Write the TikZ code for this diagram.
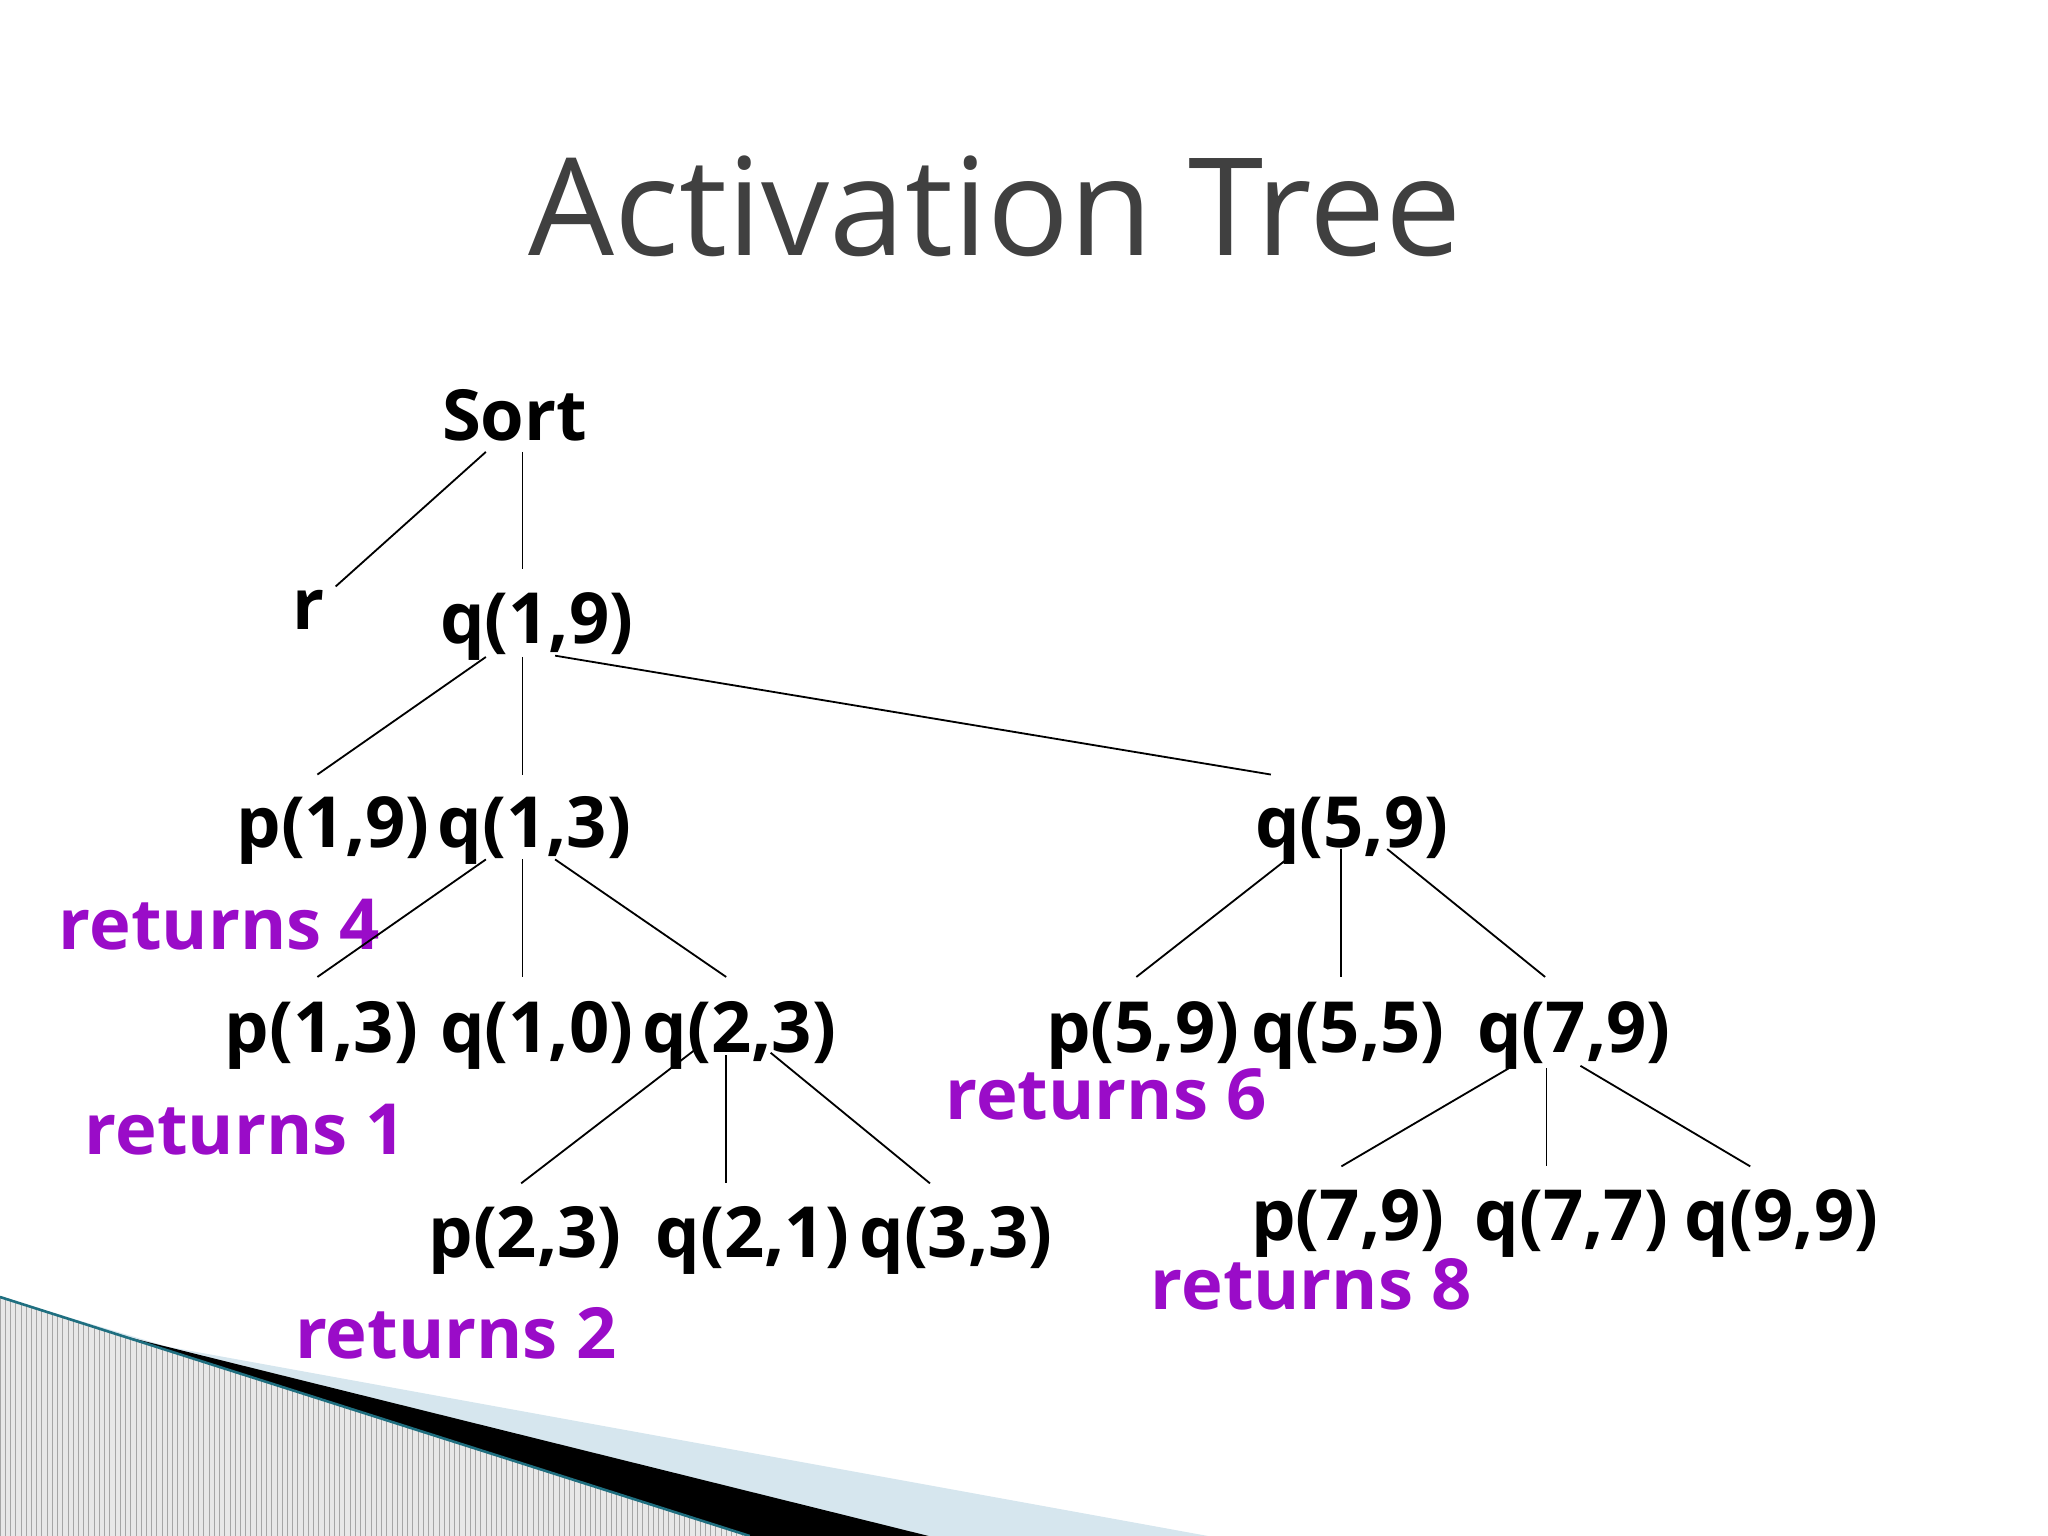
\documentclass[tikz,border=0pt]{standalone}
\usepackage{fontspec}
\setmainfont{Open Sans}
\definecolor{ret}{HTML}{9A0CC8}
\definecolor{ttl}{HTML}{404040}
\definecolor{teal1}{HTML}{1F6F80}
\definecolor{lblue}{HTML}{D6E6EE}
\begin{document}
\begin{tikzpicture}[x=0.5pt,y=-0.5pt,
  lbl/.style={font=\fontsize{27}{30}\selectfont\bfseries,inner sep=0pt},
  rl/.style={lbl,text=ret},
  edge/.style={black,line width=0.7pt}]
\useasboundingbox (0,0) rectangle (1568,1176);
% decoration
\fill[lblue] (0,993) -- (128,1031) -- (925,1176) -- (0,1176) -- cycle;
\fill[black] (0,993) -- (83,1020) -- (711,1176) -- (0,1176) -- cycle;
\begin{scope}
\clip (0,993) -- (574,1176) -- (0,1176) -- cycle;
\fill[gray!18] (0,990) rectangle (580,1176);
\foreach \i in {0,4,...,580} \draw[gray!70,line width=0.25pt] (\i,990) -- (\i,1176);
\end{scope}
\draw[teal1,line width=1pt] (0,993) -- (574,1176);
% title
\node[font=\fontsize{52}{60}\selectfont,text=ttl] (title) at (762,158) {Activation Tree};
% nodes
\node[lbl] (sort) at (394,318) {Sort};
\node[lbl] (r) at (236,467) {r};
\node[lbl] (q19) at (411,480) {q(1,9)};
\node[lbl] (p19) at (255,636) {p(1,9)};
\node[lbl] (q13) at (409,636) {q(1,3)};
\node[lbl] (q59) at (1035,636) {q(5,9)};
\node[lbl] (p13) at (246,793) {p(1,3)};
\node[lbl] (q10) at (411,793) {q(1,0)};
\node[lbl] (q23) at (566,793) {q(2,3)};
\node[lbl] (p59) at (875,793) {p(5,9)};
\node[lbl] (q55) at (1032,793) {q(5,5)};
\node[lbl] (q79) at (1205,793) {q(7,9)};
\node[lbl] (p23) at (402,950) {p(2,3)};
\node[lbl] (q21) at (576,950) {q(2,1)};
\node[lbl] (q33) at (732,950) {q(3,3)};
\node[lbl] (p79) at (1032,937) {p(7,9)};
\node[lbl] (q77) at (1203,937) {q(7,7)};
\node[lbl] (q99) at (1364,937) {q(9,9)};
\node[rl] (r4) at (168,708) {returns 4};
\node[rl] (r1) at (188,865) {returns 1};
\node[rl] (r6) at (847,838) {returns 6};
\node[rl] (r2) at (349,1021) {returns 2};
\node[rl] (r8) at (1004,983) {returns 8};
% edges
\draw[edge] (372,346) -- (257,449);
\draw[edge] (400,346) -- (400,436);
\draw[edge] (372,503) -- (243,593);
\draw[edge] (400,503) -- (400,593);
\draw[edge] (425,502) -- (973,593);
\draw[edge] (372,658) -- (243,748);
\draw[edge] (400,658) -- (400,748);
\draw[edge] (425,658) -- (556,748);
\draw[edge] (985,658) -- (870,748);
\draw[edge] (1027,650) -- (1027,748);
\draw[edge] (1062,650) -- (1183,748);
\draw[edge] (533,803) -- (399,906);
\draw[edge] (556,808) -- (556,906);
\draw[edge] (590,806) -- (712,906);
\draw[edge] (1155,818) -- (1027,893);
\draw[edge] (1184,818) -- (1184,893);
\draw[edge] (1210,816) -- (1340,893);
\end{tikzpicture}
\end{document}
